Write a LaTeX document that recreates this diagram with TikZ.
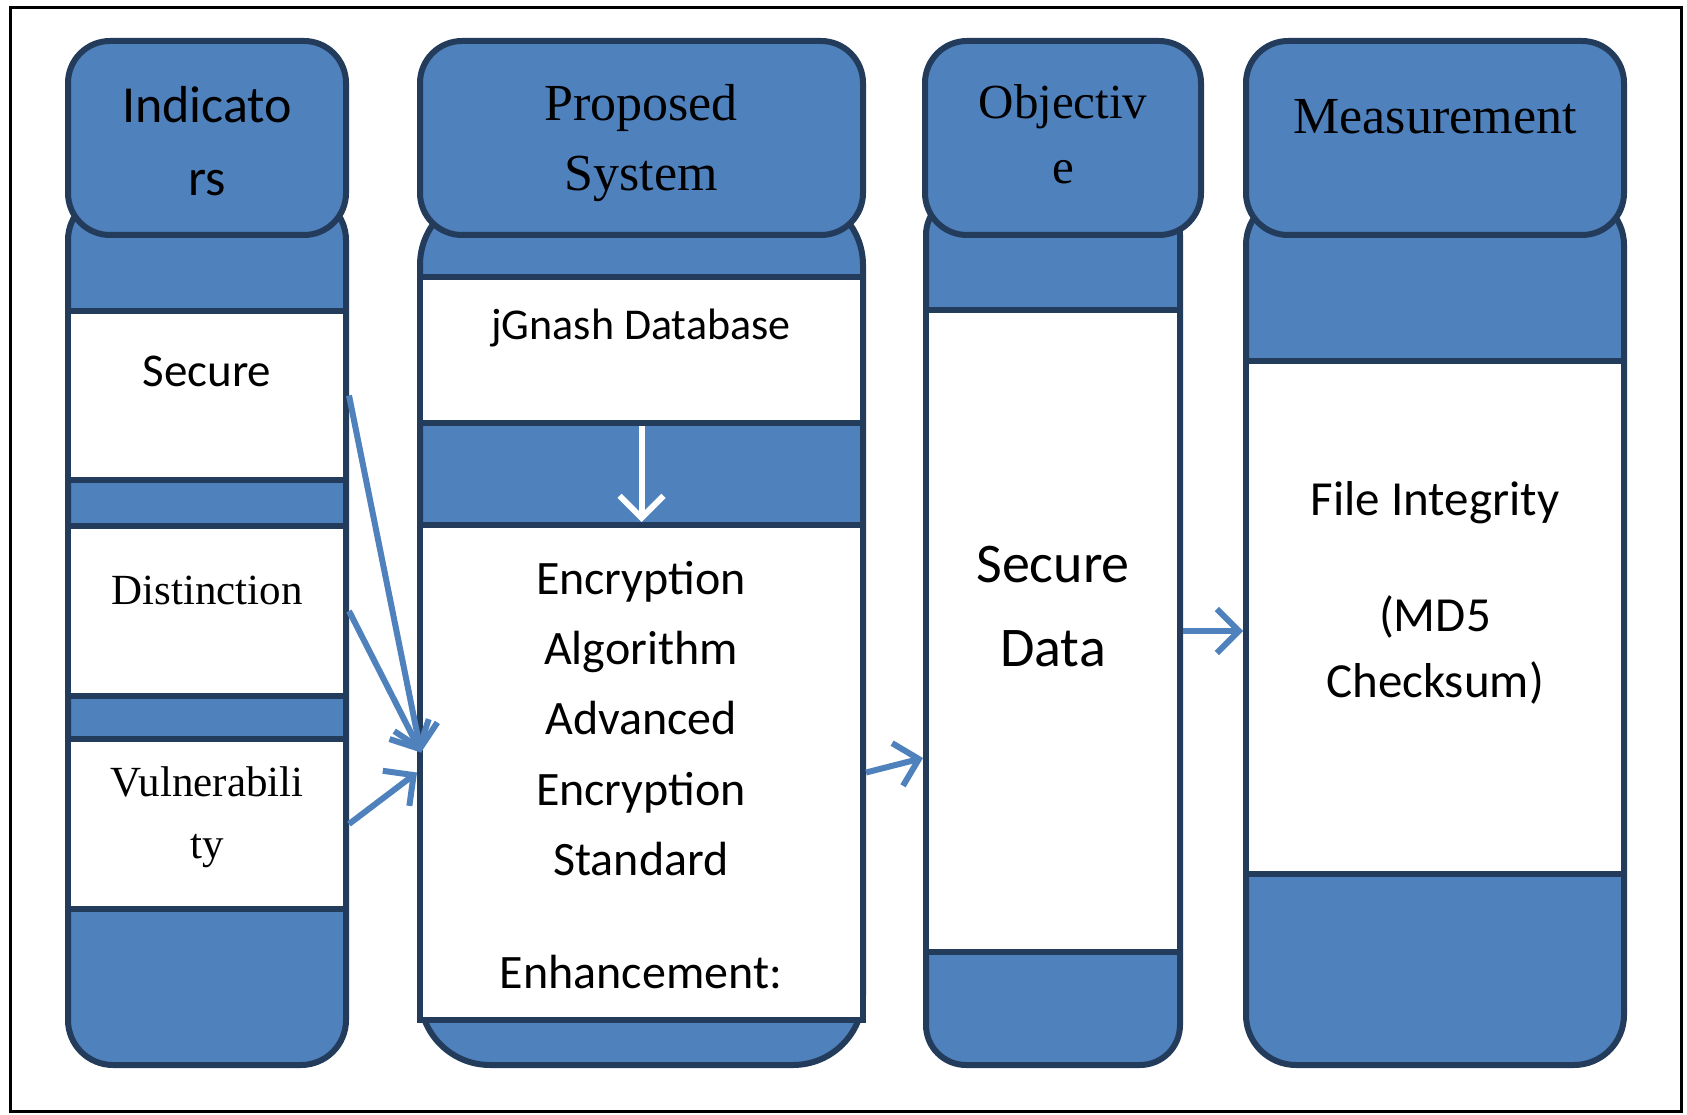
\documentclass[tikz,border=0pt]{standalone}
\usepackage{fontspec}
\setmainfont{Liberation Serif}
\newfontfamily\calib{Carlito}
\usetikzlibrary{arrows.meta,calc}
\definecolor{fillblue}{RGB}{79,129,189}
\definecolor{edgeblue}{RGB}{36,60,92}
\begin{document}
\begin{tikzpicture}[x=1pt,y=-1pt,
  hdr/.style={draw=edgeblue, fill=fillblue, line width=6pt, rounded corners=42pt, inner sep=0pt},
  body/.style={draw=edgeblue, fill=fillblue, line width=6pt, inner sep=0pt},
  wbox/.style={draw=edgeblue, fill=white, line width=6pt, inner sep=0pt},
  lbl/.style={inner sep=0pt, align=center, text=black},
  conn/.style={draw=fillblue, line width=6pt, -{Straight Barb[length=22pt,width=44pt]}},
]
\useasboundingbox (0,0) rectangle (1687,1115);
\fill[white] (0,0) rectangle (1687,1115);
\draw[line width=3pt] (10,8) rectangle (1681,1111);

% Column 1
\node[body, rounded corners=45pt, minimum width=278pt, minimum height=870pt] (b1) at (207,630) {};
\node[wbox, minimum width=278pt, minimum height=169pt] (s1) at (207,395.5) {};
\node[wbox, minimum width=278pt, minimum height=170pt] (d1) at (207,611) {};
\node[wbox, minimum width=278pt, minimum height=170pt] (v1) at (207,824) {};
\node[hdr, minimum width=278pt, minimum height=194pt] (h1) at (207,138) {};

% Column 2
\node[body, rounded corners=70pt, minimum width=443pt, minimum height=870pt] (b2) at (641.5,630) {};
\node[wbox, minimum width=443pt, minimum height=146pt] (j2) at (641.5,350) {};
\node[wbox, minimum width=443pt, minimum height=495pt] (e2) at (641.5,772.5) {};
\node[hdr, minimum width=443pt, minimum height=194pt] (h2) at (641.5,138) {};

% Column 3
\node[body, rounded corners=40pt, minimum width=254pt, minimum height=870pt] (b3) at (1053,630) {};
\node[wbox, minimum width=254pt, minimum height=642pt] (w3) at (1053,631) {};
\node[hdr, minimum width=276pt, minimum height=194pt] (h3) at (1063,138) {};

% Column 4
\node[body, rounded corners=50pt, minimum width=378pt, minimum height=870pt] (b4) at (1435,630) {};
\node[wbox, minimum width=378pt, minimum height=513pt] (w4) at (1435,617.5) {};
\node[hdr, minimum width=378pt, minimum height=194pt] (h4) at (1435,138) {};

% Texts
\node[lbl, font=\calib\fontsize{52}{73}\selectfont] (t1) at (207,141) {Indicato\\rs};
\node[lbl, font=\calib\fontsize{47}{56}\selectfont] (ts1) at (207,371) {Secure};
\node[lbl, font=\fontsize{43}{52}\selectfont] (td1) at (207,590) {Distinction};
\node[lbl, font=\fontsize{43}{62}\selectfont] (tv1) at (207,817) {Vulnerabili\\ty};

\node[lbl, font=\fontsize{52}{70}\selectfont] (t2) at (641,143) {Proposed\\System};
\node[lbl, font=\calib\fontsize{44}{53}\selectfont] (tj2) at (641,328) {jGnash Database};
\node[lbl, font=\calib\fontsize{48}{70.25}\selectfont] (te2) at (641,775) {Encryption\\Algorithm\\Advanced\\Encryption\\Standard\\[43pt]Enhancement:};

\node[lbl, font=\fontsize{49}{65}\selectfont] (t3) at (1063,134.5) {Objectiv\\e};
\node[lbl, font=\calib\fontsize{56}{84}\selectfont] (tw3) at (1053,607) {Secure\\Data};

\node[lbl, font=\fontsize{52}{62}\selectfont] (t4) at (1435,117) {Measurement};
\node[lbl, font=\calib\fontsize{49}{66}\selectfont] (tw4) at (1435,593) {File Integrity\\[50pt](MD5\\Checksum)};

% Connectors
\coordinate (in2a) at ($(e2.west)+(4,-20)$);
\coordinate (in3) at ($(w3.west)+(0,127)$);
\draw[conn] (s1.east) -- (in2a);
\draw[conn] (d1.east) -- (in2a);
\draw[conn] (v1.east) -- (e2.west);
\draw[conn] (e2.east) -- (in3);
\draw[conn] (w3.east) -- (w3.east -| w4.west);
\draw[white, line width=6pt, -{Straight Barb[length=22pt,width=44pt]}] (j2.south) -- (e2.north);
\end{tikzpicture}
\end{document}
